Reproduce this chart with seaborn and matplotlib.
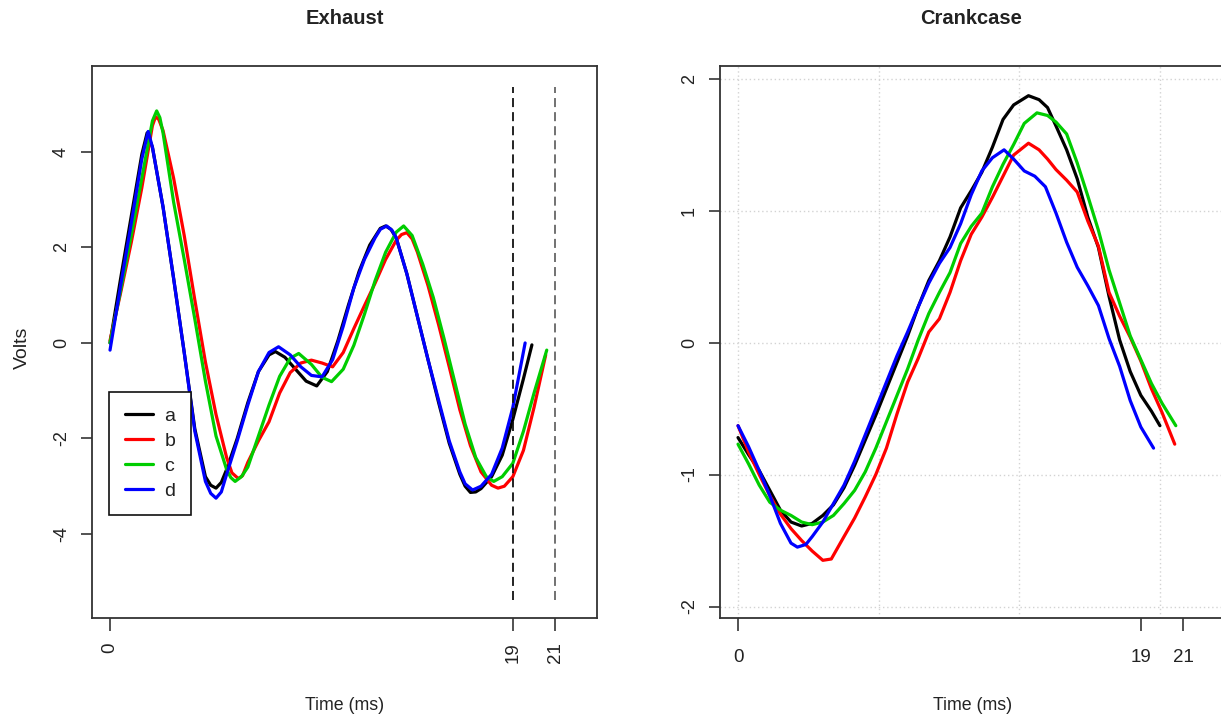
import matplotlib
matplotlib.use("Agg")
import matplotlib.pyplot as plt
from matplotlib.lines import Line2D
import seaborn as sns
import pandas as pd

# ---------------- data ----------------
series_names = ["a", "b", "c", "d"]
series_colors = ["#000000", "#FF0000", "#00CD00", "#0000FF"]

# Exhaust panel (time in ms, volts)
ex_a_t = [0, 0.5, 1.0, 1.5, 1.75, 2.0, 2.5, 3.0, 3.5, 4.0, 4.5, 4.75, 5.0, 5.25, 5.5, 6.0, 6.5,
          7.0, 7.5, 7.8, 8.25, 8.75, 9.25, 9.75, 10.25, 10.75, 11.25, 11.75, 12.25, 12.75, 13.0,
          13.25, 13.5, 14.0, 14.5, 15.0, 15.5, 16.0, 16.5, 16.75, 17.0, 17.25, 17.5, 18.0, 18.5,
          19.0, 19.5, 19.9]
ex_a_v = [0.0, 1.35, 2.65, 3.95, 4.4, 4.1, 2.85, 1.35, -0.2, -1.8, -2.8, -2.98, -3.04, -2.92,
          -2.65, -2.0, -1.25, -0.6, -0.25, -0.18, -0.3, -0.55, -0.8, -0.9, -0.6, 0.05, 0.8, 1.5,
          2.05, 2.4, 2.45, 2.38, 2.2, 1.45, 0.55, -0.35, -1.25, -2.1, -2.75, -3.0, -3.13, -3.12,
          -3.05, -2.8, -2.35, -1.6, -0.75, -0.04]

ex_b_t = [0, 0.5, 1.0, 1.5, 2.0, 2.15, 2.3, 2.5, 3.0, 3.5, 4.0, 4.5, 5.0, 5.5, 5.75, 6.05, 6.25,
          6.5, 7.0, 7.5, 8.0, 8.5, 9.0, 9.5, 10.0, 10.5, 11.0, 11.5, 12.0, 12.5, 13.0, 13.5,
          13.75, 14.0, 14.25, 14.5, 15.0, 15.5, 16.0, 16.5, 17.0, 17.5, 18.0, 18.3, 18.6, 19.0,
          19.5, 20.0, 20.55]
ex_b_v = [0.05, 1.05, 2.1, 3.25, 4.55, 4.74, 4.68, 4.45, 3.45, 2.25, 0.9, -0.4, -1.5, -2.4,
          -2.72, -2.84, -2.78, -2.5, -2.05, -1.65, -1.05, -0.62, -0.42, -0.36, -0.42, -0.5, -0.2,
          0.3, 0.78, 1.25, 1.75, 2.15, 2.27, 2.31, 2.18, 1.9, 1.2, 0.38, -0.5, -1.4, -2.15,
          -2.7, -2.98, -3.04, -3.0, -2.8, -2.25, -1.35, -0.25]

ex_c_t = [0, 0.5, 1.0, 1.5, 2.0, 2.2, 2.35, 2.5, 3.0, 3.5, 4.0, 4.5, 5.0, 5.5, 5.7, 5.9, 6.2,
          6.5, 7.0, 7.5, 8.0, 8.5, 8.9, 9.5, 10.0, 10.45, 11.0, 11.5, 12.0, 12.5, 13.0, 13.5,
          13.85, 14.25, 14.75, 15.25, 15.75, 16.25, 16.75, 17.25, 17.75, 18.1, 18.5, 19.0, 19.5,
          20.0, 20.6]
ex_c_v = [0.0, 1.1, 2.25, 3.45, 4.65, 4.86, 4.72, 4.4, 2.95, 1.75, 0.5, -0.8, -1.95, -2.65,
          -2.82, -2.9, -2.8, -2.6, -1.95, -1.3, -0.7, -0.32, -0.22, -0.45, -0.72, -0.81, -0.55,
          -0.05, 0.6, 1.3, 1.9, 2.32, 2.45, 2.25, 1.65, 0.95, 0.1, -0.8, -1.7, -2.4, -2.8, -2.9,
          -2.8, -2.52, -1.85, -1.05, -0.15]

ex_d_t = [0, 0.5, 1.0, 1.5, 1.8, 2.0, 2.5, 3.0, 3.5, 4.0, 4.5, 4.75, 5.0, 5.25, 5.5, 6.0, 6.5,
          7.0, 7.5, 7.95, 8.5, 9.0, 9.5, 10.0, 10.5, 11.0, 11.5, 12.0, 12.5, 12.75, 13.05, 13.3,
          13.5, 14.0, 14.5, 15.0, 15.5, 16.0, 16.5, 16.75, 17.1, 17.5, 18.0, 18.5, 19.0, 19.58]
ex_d_v = [-0.15, 1.2, 2.5, 3.85, 4.43, 4.1, 2.85, 1.35, -0.2, -1.85, -2.9, -3.15, -3.25, -3.12,
          -2.75, -2.05, -1.3, -0.6, -0.2, -0.08, -0.25, -0.5, -0.68, -0.71, -0.35, 0.35, 1.15,
          1.75, 2.2, 2.38, 2.45, 2.36, 2.2, 1.45, 0.55, -0.35, -1.2, -2.05, -2.7, -2.95, -3.08,
          -3.0, -2.75, -2.2, -1.35, 0.0]

# Crankcase panel
ck_a_t = [0, 0.5, 1, 1.5, 2, 2.5, 3, 3.5, 4, 4.5, 5, 5.5, 6, 6.5, 7, 7.5, 8, 8.5, 9, 9.5, 10,
          10.5, 11, 11.5, 12, 12.5, 13, 13.7, 14.2, 14.6, 15, 15.5, 16, 16.5, 17, 17.5, 18, 18.5,
          19, 19.5, 19.9]
ck_a_v = [-0.72, -0.85, -0.97, -1.12, -1.27, -1.36, -1.39, -1.37, -1.31, -1.23, -1.1, -0.93,
          -0.74, -0.55, -0.35, -0.15, 0.05, 0.27, 0.47, 0.62, 0.8, 1.02, 1.15, 1.29, 1.48, 1.69,
          1.8, 1.87, 1.84, 1.78, 1.64, 1.46, 1.24, 0.95, 0.72, 0.35, 0.02, -0.22, -0.4, -0.52,
          -0.63]

ck_b_t = [0, 0.5, 1, 1.5, 2, 2.5, 3, 3.5, 4.0, 4.4, 5, 5.5, 6, 6.5, 7, 7.5, 8, 8.5, 9, 9.5, 10,
          10.5, 11, 11.5, 12, 12.5, 13, 13.7, 14.2, 14.6, 15, 15.5, 16, 16.5, 17, 17.5, 18, 18.5,
          19, 19.5, 20, 20.6]
ck_b_v = [-0.63, -0.83, -1.0, -1.16, -1.3, -1.41, -1.5, -1.58, -1.65, -1.64, -1.47, -1.33, -1.17,
          -1.0, -0.8, -0.54, -0.3, -0.12, 0.08, 0.18, 0.38, 0.62, 0.82, 0.95, 1.1, 1.26, 1.42,
          1.51, 1.46, 1.39, 1.31, 1.23, 1.14, 0.92, 0.73, 0.38, 0.2, 0.04, -0.14, -0.35, -0.53,
          -0.77]

ck_c_t = [0, 0.5, 1, 1.5, 2, 2.5, 3, 3.5, 4, 4.5, 5, 5.5, 6, 6.5, 7, 7.5, 8, 8.5, 9, 9.5, 10,
          10.5, 11, 11.5, 12, 12.5, 13, 13.5, 14.1, 14.6, 15, 15.5, 16, 16.5, 17, 17.5, 18, 18.5,
          19, 19.5, 20, 20.65]
ck_c_v = [-0.77, -0.92, -1.08, -1.21, -1.27, -1.31, -1.36, -1.38, -1.36, -1.31, -1.22, -1.12,
          -0.98, -0.8, -0.6, -0.4, -0.2, 0.02, 0.22, 0.38, 0.53, 0.75, 0.88, 0.98, 1.18, 1.35,
          1.5, 1.66, 1.74, 1.72, 1.67, 1.58, 1.36, 1.11, 0.85, 0.55, 0.3, 0.05, -0.13, -0.31,
          -0.46, -0.63]

ck_d_t = [0, 0.5, 1, 1.5, 2, 2.5, 2.8, 3.2, 3.5, 4, 4.5, 5, 5.5, 6, 6.5, 7, 7.5, 8, 8.5, 9, 9.5,
          10, 10.5, 11, 11.5, 12, 12.55, 13, 13.5, 14, 14.5, 15, 15.5, 16, 16.5, 17, 17.5, 18,
          18.5, 19, 19.6]
ck_d_v = [-0.63, -0.79, -0.97, -1.16, -1.37, -1.52, -1.55, -1.53, -1.47, -1.36, -1.22, -1.08,
          -0.9, -0.7, -0.5, -0.3, -0.1, 0.08, 0.27, 0.45, 0.6, 0.72, 0.9, 1.12, 1.3, 1.4, 1.46,
          1.39, 1.3, 1.26, 1.18, 0.98, 0.76, 0.57, 0.43, 0.28, 0.03, -0.18, -0.44, -0.64, -0.8]

x_ticks = [0, 19, 21]
ex_y_ticks = [-4, -2, 0, 2, 4]
ck_y_ticks = [-2, -1, 0, 1, 2]
ex_vlines = [19, 21]
ex_vline_span = (-5.38, 5.36)
ck_grid_x = [0, 6.63, 13.27, 19.9]
ck_grid_y = [-2, -1, 0, 1, 2]

# ---------------- build tables ----------------
def long_table(ts, vs):
    rows = []
    for name, t, v in zip(series_names, ts, vs):
        for ti, vi in zip(t, v):
            rows.append({"series": name, "time": ti, "volts": vi})
    return pd.DataFrame(rows)

ex_df = long_table([ex_a_t, ex_b_t, ex_c_t, ex_d_t], [ex_a_v, ex_b_v, ex_c_v, ex_d_v])
ck_df = long_table([ck_a_t, ck_b_t, ck_c_t, ck_d_t], [ck_a_v, ck_b_v, ck_c_v, ck_d_v])

# ---------------- style ----------------
sns.set_theme(style="white")
plt.rcParams["font.family"] = ["Liberation Sans", "DejaVu Sans"]
plt.rcParams["axes.edgecolor"] = "#333333"
plt.rcParams["axes.linewidth"] = 1.3
plt.rcParams["lines.solid_joinstyle"] = "round"
txt = "#222222"

fig = plt.figure(figsize=(12.21, 7.19), dpi=100)
W, H = 1221.0, 719.0
ax1 = fig.add_axes([92 / W, 1 - 618 / H, 505 / W, 552 / H])
ax2 = fig.add_axes([720 / W, 1 - 618 / H, 505 / W, 552 / H])

palette = dict(zip(series_names, series_colors))

# grid in crankcase (drawn first, below lines)
for gx in ck_grid_x:
    ax2.axvline(gx, color="#d3d3d3", lw=1.0, ls=(0, (1, 2)), zorder=0)
for gy in ck_grid_y:
    ax2.axhline(gy, color="#d3d3d3", lw=1.0, ls=(0, (1, 2)), zorder=0)

sns.lineplot(data=ex_df, x="time", y="volts", hue="series", palette=palette,
             estimator=None, sort=False, lw=2.3, legend=False, ax=ax1)
sns.lineplot(data=ck_df, x="time", y="volts", hue="series", palette=palette,
             estimator=None, sort=False, lw=2.3, legend=False, ax=ax2)

# dashed verticals
ax1.vlines(ex_vlines[0], ex_vline_span[0], ex_vline_span[1], colors="#111111", lw=1.3,
           linestyles=(0, (5, 2.8)))
ax1.vlines(ex_vlines[1], ex_vline_span[0], ex_vline_span[1], colors="#666666", lw=1.3,
           linestyles=(0, (5, 2.8)))

for ax in (ax1, ax2):
    ax.set_xlim(-0.85, 22.97)
    ax.set_xticks(x_ticks)
    ax.set_xticklabels([str(v) for v in x_ticks])
    for s in ax.spines.values():
        s.set_visible(True)
        s.set_color("#333333")
        s.set_linewidth(1.3)
    ax.tick_params(axis="x", direction="out", length=9.5, width=1.3, color="#444444",
                   bottom=True, labelcolor=txt)
    ax.tick_params(axis="y", direction="out", length=8, width=1.3, color="#444444",
                   left=True, labelcolor=txt, pad=8)
    ax.set_xlabel("Time (ms)", fontsize=12.8, color=txt, va="center")
    ax.xaxis.set_label_coords(0.5, -(706 - 618) / 552)

ax1.set_ylim(-5.76, 5.80)
ax1.set_yticks(ex_y_ticks)
ax1.set_yticklabels([str(v) for v in ex_y_ticks])
ax2.set_ylim(-2.087, 2.095)
ax2.set_yticks(ck_y_ticks)
ax2.set_yticklabels([str(v) for v in ck_y_ticks])

# tick label styling
for lab in ax1.get_xticklabels():
    lab.set_rotation(90)
    lab.set_fontsize(13.5)
ax1.tick_params(axis="x", pad=8)
for lab in ax2.get_xticklabels():
    lab.set_fontsize(13.5)
ax2.tick_params(axis="x", pad=13)
for ax in (ax1, ax2):
    for lab in ax.get_yticklabels():
        lab.set_rotation(90)
        lab.set_va("center")
        lab.set_fontsize(13)

ax1.set_ylabel("Volts", fontsize=14, color=txt, va="center")
ax1.yaxis.set_label_coords(-(92 - 22) / 505, 0.49)
ax2.set_ylabel("")

ax1.set_title("Exhaust", fontsize=14.5, fontweight="bold", color=txt, pad=30)
ax2.set_title("Crankcase", fontsize=14.5, fontweight="bold", color=txt, pad=30)
ax2.title.set_position(((971 - 720) / 505, 1.0))

# legend
handles = [Line2D([0], [0], color=c, lw=2.3) for c in series_colors]
leg = ax1.legend(handles, series_names, loc="upper left",
                 bbox_to_anchor=((109 - 92) / 505, (618 - 392) / 552), borderaxespad=0,
                 fontsize=14, frameon=True, fancybox=False, shadow=False, framealpha=1,
                 edgecolor="#111111", handlelength=1.45, handletextpad=0.6, labelspacing=0.37,
                 borderpad=0.8)
leg.get_frame().set_linewidth(1.2)
for t in leg.get_texts():
    t.set_color(txt)

fig.savefig("out.png", dpi=100)
